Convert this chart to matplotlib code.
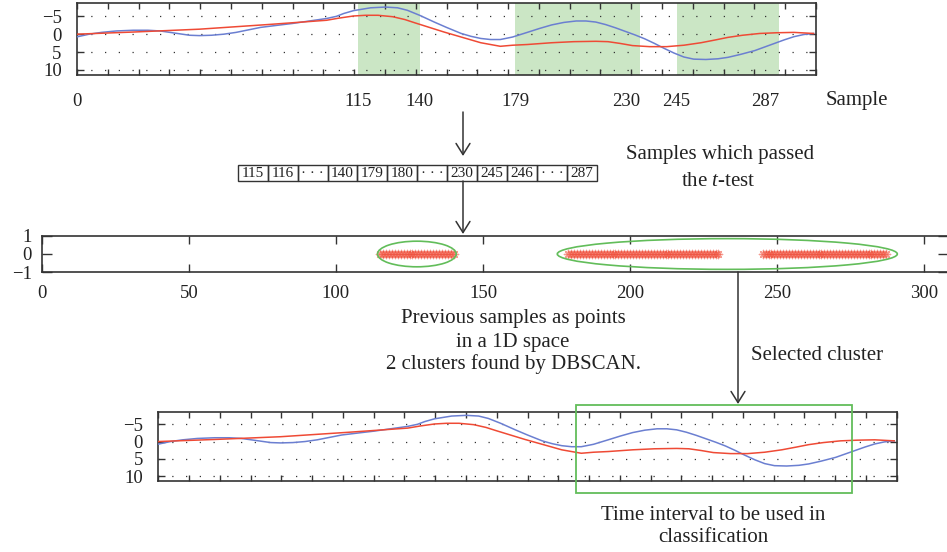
import numpy as np
import matplotlib
matplotlib.use("Agg")
import matplotlib.pyplot as plt
from matplotlib.patches import Ellipse, Rectangle
from matplotlib.transforms import blended_transform_factory

plt.rcParams['font.family'] = ['Liberation Serif', 'DejaVu Serif']
plt.rcParams['mathtext.fontset'] = 'custom'
plt.rcParams['mathtext.rm'] = 'Liberation Serif'
plt.rcParams['mathtext.it'] = 'Liberation Serif:italic'

# signal curves (sample index, value)
blue_s = [0, 5, 10, 16, 23, 29, 34, 38, 42, 46, 50, 55, 60, 65, 70, 75, 82, 88, 95, 102,
          106, 109, 113, 120, 126, 131, 135, 140, 146, 151, 157, 161, 165, 169, 173, 178,
          184, 189, 194, 199, 204, 208, 212, 216, 220, 224, 228, 232, 236, 240, 244, 248,
          252, 257, 262, 266, 271, 277, 281, 285, 289, 293, 297, 301]
blue_v = [0.75, 0.0, -0.5, -0.9, -1.1, -1.1, -0.9, -0.5, -0.1, 0.3, 0.4, 0.3, 0.0, -0.5,
          -1.2, -1.9, -2.5, -3.0, -3.7, -4.4, -5.0, -5.8, -6.6, -7.4, -7.6, -7.4, -6.7,
          -5.3, -3.4, -1.9, -0.2, 0.6, 1.2, 1.5, 1.5, 0.8, -0.5, -1.6, -2.6, -3.3, -3.7,
          -3.7, -3.4, -2.7, -1.8, -0.8, 0.2, 1.3, 2.6, 4.0, 5.3, 6.4, 7.0, 7.1, 6.9, 6.5,
          5.7, 4.6, 3.6, 2.6, 1.6, 0.7, 0.1, -0.2]
red_s = [0, 23, 50, 78, 102, 107, 113, 118, 123, 129, 134, 138, 144, 150, 157, 165, 173,
         178, 184, 194, 203, 212, 217, 222, 227, 234, 241, 248, 255, 261, 266, 272, 279,
         286, 293, 301]
red_v = [0.0, -0.6, -1.4, -2.7, -3.9, -4.5, -5.1, -5.3, -5.3, -4.9, -4.1, -3.2, -1.9,
         -0.6, 0.8, 2.4, 3.4, 3.1, 2.9, 2.4, 2.1, 2.0, 2.1, 2.6, 3.2, 3.5, 3.5, 3.1, 2.4,
         1.6, 0.9, 0.3, -0.2, -0.4, -0.5, -0.2]

# samples which passed the t-test, grouped in clusters
intervals = [(115, 140), (179, 230), (245, 287)]
clusters = [(115, 140), (179, 287)]
passed = [s for a, b in intervals for s in range(a, b + 1)]
cell_labels = ['115', '116', '\u00b7 \u00b7 \u00b7', '140', '179', '180', '\u00b7 \u00b7 \u00b7',
               '230', '245', '246', '\u00b7 \u00b7 \u00b7', '287']
sample_labels = [0, 115, 140, 179, 230, 245, 287]
sample_ha = ['center', 'center', 'center', 'center', 'right', 'center', 'right']

W, H = 947, 552
fig = plt.figure(figsize=(W / 100, H / 100), dpi=100)

dark = '#333333'
txt = '#222222'
blue = '#6b7fd1'
red = '#ef4a35'
green = '#62bd5a'
shade = '#cbe6c5'


def px_axes(l, t, r, b):
    return fig.add_axes([l / W, 1 - b / H, (r - l) / W, (b - t) / H])


def signal_panel(ax):
    ax.plot(blue_s, blue_v, color=blue, lw=1.1, zorder=3)
    ax.plot(red_s, red_v, color=red, lw=1.1, zorder=3)
    ax.set_xlim(0, 302)
    ax.set_ylim(11.45, -8.66)
    ax.set_xticks(np.linspace(0, 302, 25))
    ax.set_xticklabels([])
    ax.set_yticks([-5, 0, 5, 10])
    ax.set_yticklabels(['\u22125', '0', '5', '10'])
    ax.tick_params(axis='x', direction='in', top=True, bottom=True, length=4.5,
                   width=1.0, color=dark)
    ax.tick_params(axis='y', direction='in', left=True, right=True, length=5,
                   width=1.0, color=dark, labelsize=13.5, pad=11, labelcolor=txt)
    ax.grid(axis='y', color=dark, linestyle=(0, (1, 10)), lw=0.9)
    for sp in ax.spines.values():
        sp.set_color(dark)
        sp.set_linewidth(1.2)


# top panel
ax1 = px_axes(77, 3.3, 816, 75)
signal_panel(ax1)
for a, b in intervals:
    ax1.axvspan(a, b, color=shade, lw=0, zorder=0)
tr = blended_transform_factory(ax1.transData, fig.transFigure)
for v, ha in zip(sample_labels, sample_ha):
    ax1.text(v, 1 - 101 / H, str(v), transform=tr, ha=ha, va='center',
             fontsize=13.5, color=txt)
fig.text(857 / W, 1 - 101 / H, 'Sample', ha='center', va='center', fontsize=15, color=txt)

# middle panel: passed samples as 1D points
ax2 = px_axes(41.7, 235.7, 948, 272.3)
ax2.scatter(passed, np.zeros(len(passed)), marker=(8, 2, 0), s=35, color=red,
            alpha=0.55, lw=1.0, zorder=3)
for a, b in clusters:
    span = b - a
    ax2.add_patch(Ellipse(((a + b) / 2, 0), span * 1.07, 1.4 if span < 50 else 1.68,
                          fill=False, ec=green, lw=1.2, zorder=4))
ax2.set_xlim(0, 308)
ax2.set_ylim(-1, 1)
ax2.set_xticks([0, 50, 100, 150, 200, 250, 300])
ax2.set_yticks([-1, 0, 1])
ax2.set_yticklabels(['\u22121', '0', '1'])
ax2.tick_params(axis='x', direction='in', top=True, bottom=True, length=6, width=1.0,
                color=dark, labelsize=13.5, pad=9, labelcolor=txt)
ax2.tick_params(axis='y', direction='in', left=True, right=True, length=7, width=1.0,
                color=dark, labelsize=13.5, pad=7, labelcolor=txt)
for sp in ax2.spines.values():
    sp.set_color(dark)
    sp.set_linewidth(1.2)

# bottom panel
ax3 = px_axes(158.3, 411.7, 896.7, 481)
signal_panel(ax3)

# overlay for the diagram parts, in pixel units
ov = fig.add_axes([0, 0, 1, 1])
ov.set_xlim(0, W)
ov.set_ylim(H, 0)
ov.axis('off')
ov.patch.set_alpha(0)

arrow = dict(arrowstyle='->,head_length=0.4,head_width=0.25', lw=1.1, color=dark,
             mutation_scale=20, shrinkA=0, shrinkB=0)
ov.annotate('', xy=(463, 156), xytext=(463, 112), arrowprops=arrow)
ov.annotate('', xy=(463, 234), xytext=(463, 181), arrowprops=arrow)
ov.annotate('', xy=(738, 404), xytext=(738, 272), arrowprops=arrow)

# box of passed samples
x0, x1, y0, y1 = 237.7, 597, 165, 181
cw = (x1 - x0) / len(cell_labels)
for i, lab in enumerate(cell_labels):
    ov.add_patch(Rectangle((x0 + i * cw, y0), cw, y1 - y0, fill=False, ec=dark, lw=1.0))
    ov.text(x0 + (i + 0.5) * cw, (y0 + y1) / 2 + 0.5, lab, ha='center', va='center',
            fontsize=11, color=txt)

ov.text(720, 155, 'Samples which passed', ha='center', va='center', fontsize=15, color=txt)
ov.text(718, 182, 'the $t$-test', ha='center', va='center', fontsize=15, color=txt)

ov.text(513, 319, 'Previous samples as points', ha='center', va='center', fontsize=15, color=txt)
ov.text(513, 342, 'in a 1D space', ha='center', va='center', fontsize=15, color=txt)
ov.text(513, 364, '2 clusters found by DBSCAN.', ha='center', va='center', fontsize=15, color=txt)
ov.text(751, 355, 'Selected cluster', ha='left', va='center', fontsize=15, color=txt)

ov.add_patch(Rectangle((575.7, 405), 852.3 - 575.7, 493.3 - 405, fill=False, ec=green, lw=1.3))
ov.text(713, 515, 'Time interval to be used in', ha='center', va='center', fontsize=15, color=txt)
ov.text(713, 538, 'classification', ha='center', va='center', fontsize=15, color=txt)

fig.savefig('out.png', dpi=100)
